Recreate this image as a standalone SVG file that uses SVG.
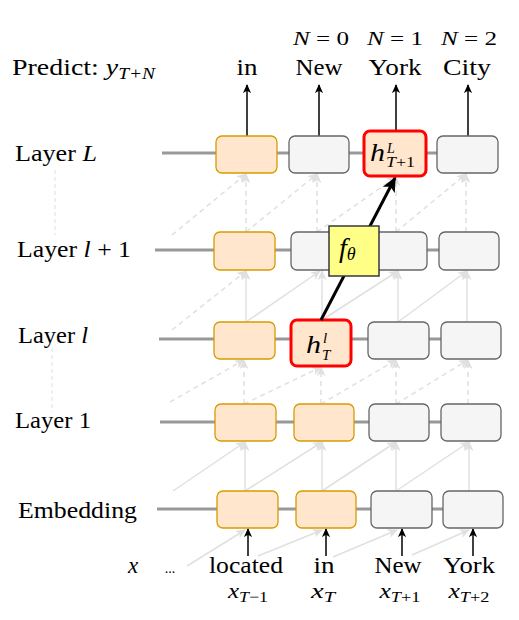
<svg xmlns="http://www.w3.org/2000/svg" width="519" height="620" viewBox="0 0 519 620">
<style>
text{font-family:"Liberation Serif","Times New Roman",serif;fill:#000;}
.lbl{font-size:23px;}
.ctr{text-anchor:middle;}
.it{font-style:italic;}
.sub{font-size:15px;font-style:italic;}
.org{fill:#ffe6cc;stroke:#d79b00;stroke-width:1.3;}
.gry{fill:#f5f5f5;stroke:#666666;stroke-width:1.3;}
.red{fill:#ffe6cc;stroke:#ff0000;stroke-width:3;}
.hl{stroke:#999999;stroke-width:3;fill:none;}
.gs{stroke:#e0e0e0;stroke-width:1.5;fill:none;marker-end:url(#ga);}
.gd{stroke:#e0e0e0;stroke-width:1.5;fill:none;stroke-dasharray:5 4;marker-end:url(#ga);}
.ba{stroke:#000;stroke-width:1.5;fill:none;marker-end:url(#bk);}
</style>
<defs>
<marker id="ga" viewBox="0 0 10 10" markerWidth="10" markerHeight="10" markerUnits="userSpaceOnUse" refX="9" refY="5" orient="auto">
<path d="M0,0.5 L10,5 L0,9.5 L2.5,5 z" fill="#e0e0e0"/>
</marker>
<marker id="bk" viewBox="0 0 10 10" markerWidth="9" markerHeight="9" markerUnits="userSpaceOnUse" refX="9" refY="5" orient="auto">
<path d="M0,0.5 L10,5 L0,9.5 L2.5,5 z" fill="#000"/>
</marker>
<marker id="bb" viewBox="0 0 10 10" markerWidth="15" markerHeight="15" markerUnits="userSpaceOnUse" refX="9" refY="5" orient="auto">
<path d="M0,0.5 L10,5 L0,9.5 L2.5,5 z" fill="#000"/>
</marker>
</defs>
<rect width="519" height="620" fill="#fff"/>

<g id="labels">
<text class="lbl" x="12" y="75" textLength="143" lengthAdjust="spacingAndGlyphs">Predict: <tspan class="it">y</tspan><tspan class="sub" style="font-size:16px" dy="4">T+N</tspan></text>
<text class="lbl" x="15" y="161" textLength="82" lengthAdjust="spacingAndGlyphs">Layer <tspan class="it">L</tspan></text>
<text class="lbl" x="17" y="257" textLength="114" lengthAdjust="spacingAndGlyphs">Layer <tspan class="it">l</tspan> + 1</text>
<text class="lbl" x="18" y="343" textLength="70" lengthAdjust="spacingAndGlyphs">Layer <tspan class="it">l</tspan></text>
<text class="lbl" x="15" y="428" textLength="76" lengthAdjust="spacingAndGlyphs">Layer 1</text>
<text class="lbl" x="18" y="518" textLength="119" lengthAdjust="spacingAndGlyphs">Embedding</text>
<line x1="55" y1="170" x2="55" y2="235" stroke="#e0e0e0" stroke-width="1" stroke-dasharray="4 3"/>
<line x1="52" y1="348" x2="52" y2="412" stroke="#e0e0e0" stroke-width="1" stroke-dasharray="4 3"/>
</g>

<g id="outputs">
<text class="ctr" style="font-size:18px" x="321" y="45" textLength="56" lengthAdjust="spacingAndGlyphs"><tspan class="it">N</tspan> = 0</text>
<text class="ctr" style="font-size:18px" x="395" y="45" textLength="56" lengthAdjust="spacingAndGlyphs"><tspan class="it">N</tspan> = 1</text>
<text class="ctr" style="font-size:18px" x="469" y="45" textLength="56" lengthAdjust="spacingAndGlyphs"><tspan class="it">N</tspan> = 2</text>
<text class="lbl ctr" x="247" y="75" textLength="21" lengthAdjust="spacingAndGlyphs">in</text>
<text class="lbl ctr" x="319" y="75" textLength="47" lengthAdjust="spacingAndGlyphs">New</text>
<text class="lbl ctr" x="395" y="75" textLength="53" lengthAdjust="spacingAndGlyphs">York</text>
<text class="lbl ctr" x="467" y="75" textLength="48" lengthAdjust="spacingAndGlyphs">City</text>
</g>

<g id="inputs">
<text class="lbl ctr it" x="133" y="573">x</text>
<text class="ctr" style="font-size:14px" x="170" y="573">...</text>
<text class="lbl ctr" x="246" y="573" textLength="74" lengthAdjust="spacingAndGlyphs">located</text>
<text class="lbl ctr" x="324" y="573" textLength="21" lengthAdjust="spacingAndGlyphs">in</text>
<text class="lbl ctr" x="398" y="573" textLength="47" lengthAdjust="spacingAndGlyphs">New</text>
<text class="lbl ctr" x="469" y="573" textLength="52" lengthAdjust="spacingAndGlyphs">York</text>
<text class="ctr" x="248" y="598" textLength="40" lengthAdjust="spacingAndGlyphs"><tspan class="it" style="font-size:21px">x</tspan><tspan class="sub" dy="4">T</tspan><tspan style="font-size:15px">−1</tspan></text>
<text class="ctr" x="323" y="598" textLength="24" lengthAdjust="spacingAndGlyphs"><tspan class="it" style="font-size:21px">x</tspan><tspan class="sub" dy="4">T</tspan></text>
<text class="ctr" x="400" y="598" textLength="41" lengthAdjust="spacingAndGlyphs"><tspan class="it" style="font-size:21px">x</tspan><tspan class="sub" dy="4">T</tspan><tspan style="font-size:15px">+1</tspan></text>
<text class="ctr" x="469" y="598" textLength="41" lengthAdjust="spacingAndGlyphs"><tspan class="it" style="font-size:21px">x</tspan><tspan class="sub" dy="4">T</tspan><tspan style="font-size:15px">+2</tspan></text>
</g>

<g id="connectors">
<line class="hl" x1="162" y1="153" x2="440" y2="153"/>
<line class="hl" x1="155" y1="250" x2="440" y2="250"/>
<line class="hl" x1="159" y1="339" x2="442" y2="339"/>
<line class="hl" x1="160" y1="422" x2="442" y2="422"/>
<line class="hl" x1="157" y1="509" x2="444" y2="509"/>
<line class="gs" x1="187" y1="566" x2="245" y2="530"/>
<line class="gs" x1="258" y1="556" x2="322" y2="530"/>
<line class="gs" x1="333" y1="557" x2="397" y2="530"/>
<line class="gs" x1="412" y1="555" x2="469" y2="530"/>
<line class="ba" x1="248" y1="556" x2="248" y2="529"/>
<line class="ba" x1="326" y1="556" x2="326" y2="529"/>
<line class="ba" x1="402" y1="556" x2="402" y2="529"/>
<line class="ba" x1="473" y1="556" x2="473" y2="529"/>
<line class="gs" x1="245" y1="491" x2="245" y2="442"/>
<line class="gs" x1="322" y1="491" x2="322" y2="442"/>
<line class="gs" x1="396" y1="491" x2="396" y2="442"/>
<line class="gs" x1="469" y1="491" x2="469" y2="442"/>
<line class="gs" x1="173" y1="491" x2="245" y2="442"/>
<line class="gs" x1="245" y1="491" x2="322" y2="442"/>
<line class="gs" x1="322" y1="491" x2="396" y2="442"/>
<line class="gs" x1="396" y1="491" x2="469" y2="442"/>
<line class="gd" x1="244" y1="404" x2="244" y2="360"/>
<line class="gd" x1="321" y1="404" x2="321" y2="367"/>
<line class="gd" x1="396" y1="404" x2="396" y2="360"/>
<line class="gd" x1="468" y1="404" x2="468" y2="360"/>
<line class="gd" x1="170" y1="402" x2="244" y2="360"/>
<line class="gd" x1="244" y1="404" x2="321" y2="367"/>
<line class="gd" x1="321" y1="404" x2="396" y2="360"/>
<line class="gd" x1="396" y1="404" x2="468" y2="360"/>
<line class="gs" x1="246" y1="322" x2="246" y2="271"/>
<line class="gs" x1="322" y1="320" x2="322" y2="271"/>
<line class="gs" x1="398" y1="322" x2="398" y2="271"/>
<line class="gs" x1="467" y1="322" x2="467" y2="271"/>
<line class="gd" x1="172" y1="330" x2="246" y2="271"/>
<line class="gs" x1="246" y1="322" x2="320" y2="271"/>
<line class="gs" x1="322" y1="320" x2="398" y2="271"/>
<line class="gs" x1="398" y1="322" x2="467" y2="271"/>
<line class="gd" x1="246" y1="232" x2="246" y2="174"/>
<line class="gd" x1="317" y1="232" x2="317" y2="174"/>
<line class="gd" x1="396" y1="232" x2="396" y2="177"/>
<line class="gd" x1="466" y1="232" x2="466" y2="174"/>
<line class="gd" x1="172" y1="235" x2="246" y2="174"/>
<line class="gd" x1="246" y1="232" x2="317" y2="174"/>
<line class="gd" x1="317" y1="232" x2="396" y2="177"/>
<line class="gd" x1="396" y1="232" x2="466" y2="174"/>
<line class="ba" x1="247" y1="136" x2="247" y2="85"/>
<line class="ba" x1="319" y1="136" x2="319" y2="85"/>
<line class="ba" x1="396" y1="131" x2="396" y2="85"/>
<line class="ba" x1="468" y1="136" x2="468" y2="85"/>
</g>

<g id="layerL">
<rect class="org" x="216" y="136" width="61" height="37" rx="6"/>
<rect class="gry" x="289" y="136" width="60" height="37" rx="6"/>
<rect class="gry" x="437" y="136" width="61" height="37" rx="6"/>
</g>
<g id="hTplus1L">
<rect class="red" x="364" y="131" width="62" height="45" rx="6"/>
<text class="it" style="font-size:26px" x="370" y="161" textLength="15" lengthAdjust="spacingAndGlyphs">h</text>
<text class="it" style="font-size:14px" x="387" y="153">L</text>
<text style="font-size:14px" x="386" y="167" textLength="29" lengthAdjust="spacingAndGlyphs"><tspan class="it">T</tspan>+1</text>
</g>
<g id="layerl1">
<rect class="org" x="214" y="232" width="61" height="38" rx="6"/>
<rect class="gry" x="291" y="232" width="61" height="38" rx="6"/>
<rect class="gry" x="366" y="232" width="61" height="38" rx="6"/>
<rect class="gry" x="439" y="232" width="60" height="38" rx="6"/>
</g>
<g id="layerl">
<rect class="org" x="214" y="322" width="61" height="37" rx="6"/>
<rect class="gry" x="368" y="322" width="61" height="37" rx="6"/>
<rect class="gry" x="441" y="322" width="60" height="37" rx="6"/>
</g>
<g id="hTl">
<rect class="red" x="291" y="320" width="60" height="46" rx="6"/>
<text class="it" style="font-size:26px" x="306" y="353" textLength="15" lengthAdjust="spacingAndGlyphs">h</text>
<text class="it" style="font-size:15px" x="323" y="343">l</text>
<text class="it" style="font-size:15px" x="322" y="360">T</text>
</g>
<g id="layer1">
<rect class="org" x="215" y="404" width="61" height="37" rx="6"/>
<rect class="org" x="294" y="404" width="60" height="37" rx="6"/>
<rect class="gry" x="369" y="404" width="60" height="37" rx="6"/>
<rect class="gry" x="441" y="404" width="60" height="37" rx="6"/>
</g>
<g id="embedding">
<rect class="org" x="217" y="491" width="61" height="37" rx="6"/>
<rect class="org" x="296" y="491" width="60" height="37" rx="6"/>
<rect class="gry" x="371" y="491" width="61" height="37" rx="6"/>
<rect class="gry" x="443" y="491" width="60" height="37" rx="6"/>
</g>

<g id="mainArrow">
<line x1="321" y1="320" x2="395" y2="178" stroke="#000" stroke-width="3" marker-end="url(#bb)"/>
</g>
<g id="ftheta">
<rect x="329" y="226" width="50" height="50" fill="#ffff88" stroke="#36393d" stroke-width="1.5"/>
<text x="339" y="257"><tspan class="it" style="font-size:28px">f</tspan><tspan class="it" style="font-size:18px" dy="3">θ</tspan></text>
</g>
</svg>
